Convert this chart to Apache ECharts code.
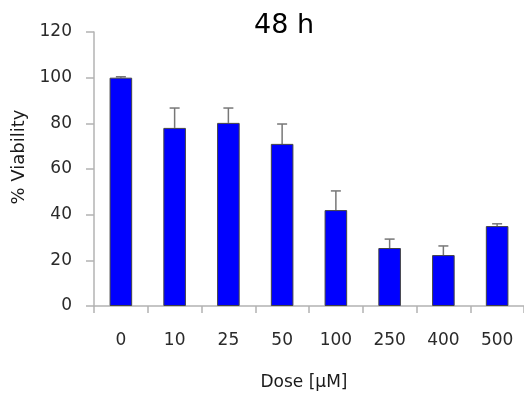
<!DOCTYPE html>
<html>
<head>
<meta charset="utf-8">
<script src="https://cdn.jsdelivr.net/npm/echarts@6/dist/echarts.min.js"></script>
<style>html,body{margin:0;padding:0;background:#fff;}#c{width:524px;height:396px;}</style>
</head>
<body>
<div id="c"></div>
<script>
var categories = ['0', '10', '25', '50', '100', '250', '400', '500'];
var viability = [100, 78, 80.2, 71, 42, 25.4, 22.3, 35];
var errorUp = [0.4, 8.7, 6.5, 8.7, 8.4, 3.9, 4, 1];
var yTicks = [0, 20, 40, 60, 80, 100, 120];

var chart = echarts.init(document.getElementById('c'), null, {renderer: 'canvas'});
var font = 'DejaVu Sans';
chart.setOption({
  animation: false,
  title: {
    text: '48 h', left: 249, top: 7,
    textStyle: {fontFamily: font, fontSize: 27, fontWeight: 'normal', color: '#000'}
  },
  grid: {left: 94, right: -7, top: 32, bottom: 90},
  xAxis: {
    type: 'category', data: categories,
    name: 'Dose [μM]', nameLocation: 'middle', nameGap: 68,
    nameTextStyle: {fontFamily: font, fontSize: 17, color: '#1a1a1a', padding: [0, 10, 0, 0]},
    axisLine: {lineStyle: {color: '#b3b3b3', width: 1.5}},
    axisTick: {show: true, length: 7, inside: false, lineStyle: {color: '#b3b3b3', width: 1.5}},
    axisLabel: {fontFamily: font, fontSize: 17, color: '#2a2a2a', margin: 26}
  },
  yAxis: {
    type: 'value', min: yTicks[0], max: yTicks[yTicks.length - 1], interval: 20,
    name: '% Viability', nameLocation: 'middle', nameGap: 64,
    nameTextStyle: {fontFamily: font, fontSize: 18, color: '#1a1a1a', padding: [0, 0, 0, 24]},
    axisLine: {show: true, lineStyle: {color: '#b3b3b3', width: 1.5}},
    axisTick: {show: true, length: 8, lineStyle: {color: '#b3b3b3', width: 1.5}},
    splitLine: {show: false},
    axisLabel: {fontFamily: font, fontSize: 17, color: '#2a2a2a', margin: 22}
  },
  series: [
    {
      type: 'bar', data: viability, barWidth: '42%',
      itemStyle: {color: '#0000ff', borderColor: '#444', borderWidth: 1}
    },
    {
      type: 'custom',
      data: viability.map(function (v, i) { return [i, v, v + errorUp[i]]; }),
      encode: {x: 0, y: [1, 2]},
      z: 1,
      renderItem: function (params, api) {
        var base = api.coord([api.value(0), api.value(1)]);
        var top = api.coord([api.value(0), api.value(2)]);
        var hw = 5;
        var st = {stroke: '#777', lineWidth: 1.5};
        return {
          type: 'group',
          children: [
            {type: 'line', shape: {x1: base[0], y1: base[1], x2: top[0], y2: top[1]}, style: st},
            {type: 'line', shape: {x1: top[0] - hw, y1: top[1], x2: top[0] + hw, y2: top[1]}, style: st}
          ]
        };
      }
    }
  ]
});
</script>
</body>
</html>
